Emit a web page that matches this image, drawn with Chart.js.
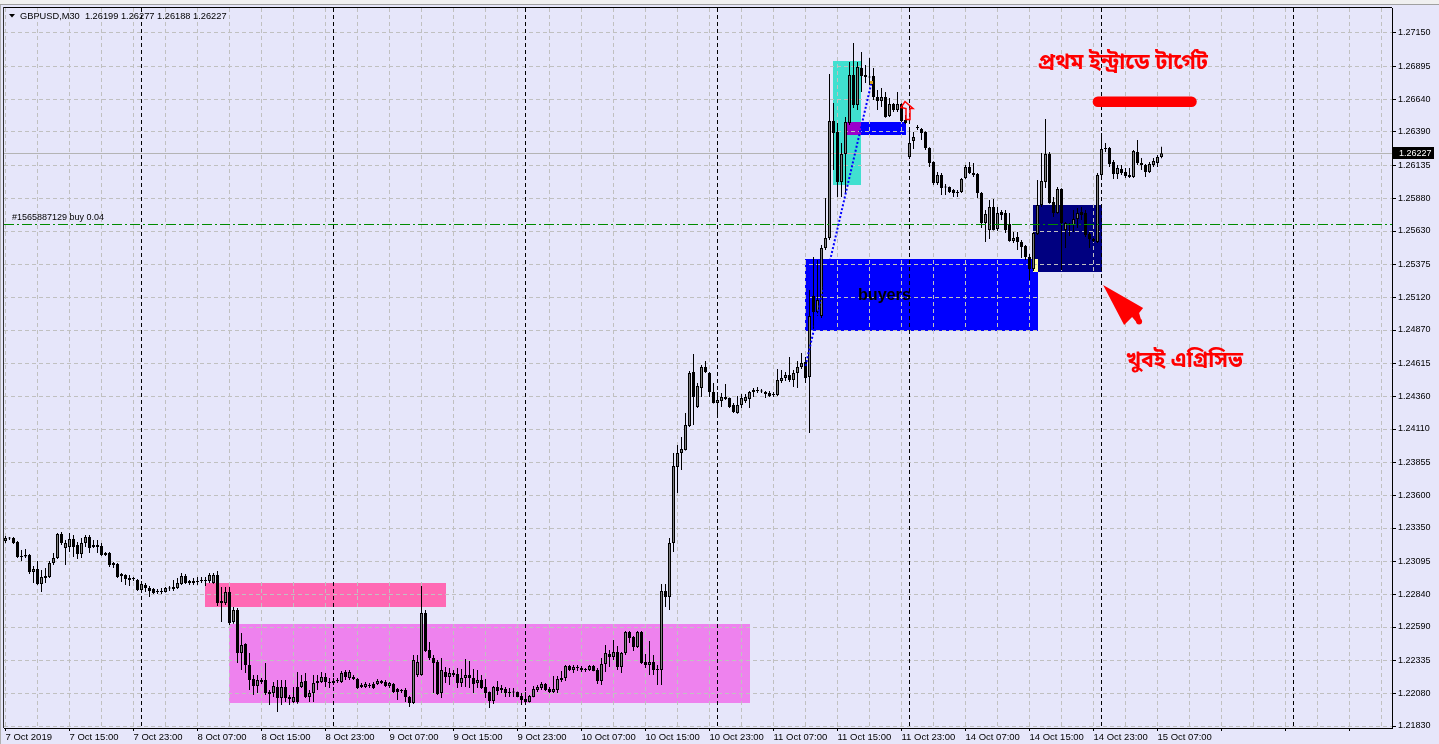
<!DOCTYPE html>
<html>
<head>
<meta charset="utf-8">
<script src="https://cdn.jsdelivr.net/npm/chart.js@4.4.1/dist/chart.umd.min.js"></script>
<style>
html,body{margin:0;padding:0;background:#E6E6FA;overflow:hidden}
#wrap{position:relative;width:1439px;height:744px}
canvas{display:block}
</style>
</head>
<body>
<div id="wrap"><canvas id="c" width="1439" height="744"></canvas></div>
<script>
// ---------------- DATA ----------------
const symbolTitle = "GBPUSD,M30  1.26199 1.26277 1.26188 1.26227";

const open = [
1.23250,1.23273,1.23273,1.23243,1.23135,1.23143,1.23143,1.23012,1.23035,1.22920,
1.22982,1.22974,1.23081,1.23120,1.23304,1.23197,1.23204,1.23266,1.23220,1.23150,
1.23235,1.23281,1.23220,1.23204,1.23212,1.23158,1.23158,1.23081,1.23074,1.22997,
1.22989,1.22951,1.22959,1.22951,1.22874,1.22913,1.22889,1.22882,1.22866,1.22859,
1.22859,1.22889,1.22882,1.22889,1.22920,1.22982,1.22943,1.22928,1.22936,1.22943,
1.22943,1.22943,1.22928,1.22989,1.22790,1.22774,1.22859,1.22628,1.22721,1.22390,
1.22460,1.22298,1.22191,1.22137,1.22183,1.22183,1.22091,1.22083,1.22129,1.22045,
1.22129,1.22053,1.22014,1.22129,1.22129,1.22175,1.22053,1.22083,1.22160,1.22168,
1.22206,1.22168,1.22160,1.22175,1.22168,1.22245,1.22199,1.22206,1.22191,1.22129,
1.22129,1.22145,1.22152,1.22152,1.22175,1.22168,1.22137,1.22152,1.22114,1.22106,
1.22106,1.22053,1.22007,1.22222,1.22222,1.22698,1.22414,1.22352,1.22321,1.22083,
1.22245,1.22206,1.22222,1.22229,1.22160,1.22199,1.22222,1.22199,1.22160,1.22183,
1.22129,1.22091,1.22022,1.22129,1.22122,1.22114,1.22091,1.22091,1.22091,1.22060,
1.22037,1.22014,1.22053,1.22106,1.22122,1.22152,1.22114,1.22091,1.22106,1.22183,
1.22199,1.22291,1.22260,1.22283,1.22275,1.22268,1.22260,1.22291,1.22260,1.22175,
1.22306,1.22383,1.22360,1.22398,1.22283,1.22390,1.22552,1.22513,1.22437,1.22552,
1.22321,1.22298,1.22321,1.22268,1.22260,1.22866,1.22820,1.23235,1.23818,1.23926,
1.23949,1.24133,1.24548,1.24279,1.24425,1.24586,1.24540,1.24394,1.24310,1.24325,
1.24356,1.24348,1.24294,1.24233,1.24294,1.24325,1.24340,1.24394,1.24410,1.24402,
1.24394,1.24386,1.24379,1.24371,1.24479,1.24502,1.24525,1.24486,1.24540,1.24586,
1.24624,1.24509,1.25131,1.25008,1.24978,1.25500,1.25576,1.26475,1.26390,1.26006,
1.26221,1.26459,1.26828,1.26597,1.26882,1.26828,1.26812,1.26820,1.26659,1.26628,
1.26659,1.26513,1.26605,1.26559,1.26605,1.26482,1.26198,1.26321,1.26421,1.26413,
1.26390,1.26267,1.26160,1.25999,1.26060,1.25968,1.25968,1.25945,1.25922,1.25930,
1.26037,1.26121,1.26075,1.26068,1.25922,1.25692,1.25638,1.25814,1.25646,1.25776,
1.25768,1.25684,1.25553,1.25584,1.25546,1.25515,1.25431,1.25338,1.25607,1.25830,
1.26006,1.26221,1.25853,1.25768,1.25953,1.25638,1.25684,1.25676,1.25722,1.25776,
1.25768,1.25607,1.25569,1.25546,1.26060,1.26260,1.26267,1.26160,1.26068,1.26106,
1.26083,1.26060,1.26045,1.26237,1.26152,1.26137,1.26083,1.26137,1.26152,1.26199
];
const high = [
1.23289,1.23281,1.23281,1.23250,1.23181,1.23189,1.23150,1.23058,1.23097,1.23028,
1.23043,1.23097,1.23158,1.23312,1.23319,1.23258,1.23312,1.23296,1.23243,1.23273,
1.23296,1.23296,1.23258,1.23258,1.23235,1.23166,1.23166,1.23089,1.23081,1.23005,
1.22995,1.22989,1.22974,1.22959,1.22943,1.22928,1.22905,1.22889,1.22882,1.22889,
1.22897,1.22905,1.22951,1.22966,1.23005,1.22997,1.22951,1.22966,1.22974,1.22974,
1.22974,1.23005,1.23005,1.23020,1.22897,1.22897,1.22897,1.22744,1.22736,1.22544,
1.22465,1.22390,1.22222,1.22222,1.22199,1.22314,1.22106,1.22168,1.22183,1.22183,
1.22183,1.22068,1.22129,1.22245,1.22222,1.22237,1.22106,1.22222,1.22222,1.22245,
1.22237,1.22199,1.22199,1.22199,1.22252,1.22260,1.22260,1.22222,1.22199,1.22160,
1.22168,1.22160,1.22168,1.22191,1.22183,1.22183,1.22168,1.22160,1.22122,1.22114,
1.22122,1.22060,1.22375,1.22375,1.22905,1.22721,1.22475,1.22375,1.22337,1.22352,
1.22283,1.22275,1.22260,1.22275,1.22268,1.22344,1.22329,1.22268,1.22260,1.22222,
1.22191,1.22095,1.22137,1.22175,1.22145,1.22129,1.22122,1.22122,1.22095,1.22083,
1.22091,1.22068,1.22137,1.22145,1.22168,1.22160,1.22129,1.22214,1.22214,1.22252,
1.22298,1.22298,1.22298,1.22298,1.22291,1.22275,1.22298,1.22298,1.22275,1.22352,
1.22452,1.22414,1.22490,1.22444,1.22398,1.22559,1.22559,1.22521,1.22559,1.22559,
1.22383,1.22483,1.22375,1.22298,1.22920,1.22920,1.23273,1.23926,1.23987,1.24049,
1.24233,1.24555,1.24686,1.24463,1.24601,1.24632,1.24548,1.24463,1.24394,1.24386,
1.24456,1.24352,1.24310,1.24363,1.24379,1.24379,1.24402,1.24425,1.24433,1.24417,
1.24402,1.24402,1.24394,1.24571,1.24563,1.24548,1.24663,1.24563,1.24632,1.24694,
1.24663,1.25177,1.25431,1.25408,1.25523,1.25884,1.26835,1.26613,1.26459,1.26306,
1.26505,1.26928,1.27073,1.26928,1.27004,1.26905,1.26958,1.26882,1.26713,1.26728,
1.26697,1.26651,1.26613,1.26697,1.26610,1.26521,1.26421,1.26390,1.26444,1.26421,
1.26395,1.26272,1.26165,1.26083,1.26075,1.25991,1.25972,1.25953,1.25945,1.26037,
1.26137,1.26160,1.26152,1.26075,1.25930,1.25791,1.25868,1.25876,1.25814,1.25791,
1.25791,1.25768,1.25622,1.25622,1.25561,1.25523,1.25454,1.25622,1.26022,1.26229,
1.26490,1.26237,1.25891,1.25968,1.25958,1.25699,1.25692,1.25791,1.25807,1.25814,
1.25791,1.25622,1.25576,1.26075,1.26383,1.26306,1.26275,1.26175,1.26137,1.26137,
1.26114,1.26114,1.26252,1.26329,1.26191,1.26145,1.26160,1.26191,1.26214,1.26277
];
const low = [
1.23235,1.23258,1.23227,1.23120,1.23097,1.23120,1.22997,1.22928,1.22913,1.22859,
1.22928,1.22966,1.23066,1.23112,1.23220,1.23066,1.23166,1.23127,1.23112,1.23120,
1.23204,1.23158,1.23197,1.23158,1.23135,1.23135,1.23051,1.23043,1.22966,1.22936,
1.22913,1.22905,1.22943,1.22866,1.22859,1.22859,1.22820,1.22843,1.22843,1.22843,
1.22855,1.22866,1.22866,1.22882,1.22913,1.22920,1.22913,1.22913,1.22913,1.22928,
1.22905,1.22928,1.22922,1.22751,1.22628,1.22759,1.22605,1.22615,1.22314,1.22260,
1.22237,1.22106,1.22068,1.22083,1.22152,1.22068,1.21991,1.22053,1.21938,1.21991,
1.22014,1.21991,1.22007,1.22000,1.22122,1.22045,1.22014,1.22014,1.22106,1.22160,
1.22129,1.22122,1.22145,1.22160,1.22160,1.22183,1.22183,1.22183,1.22114,1.22122,
1.22122,1.22122,1.22114,1.22145,1.22152,1.22129,1.22122,1.22083,1.22030,1.22083,
1.22014,1.21976,1.21999,1.22206,1.22215,1.22398,1.22337,1.22083,1.22068,1.22045,
1.22160,1.22145,1.22206,1.22122,1.22129,1.22129,1.22122,1.22083,1.22122,1.22114,
1.22045,1.21968,1.21999,1.22068,1.22083,1.22053,1.22053,1.22053,1.22050,1.21991,
1.21991,1.22010,1.22050,1.22091,1.22106,1.22099,1.22083,1.22083,1.22083,1.22168,
1.22175,1.22252,1.22237,1.22252,1.22245,1.22245,1.22252,1.22250,1.22152,1.22145,
1.22245,1.22283,1.22337,1.22260,1.22237,1.22375,1.22467,1.22406,1.22429,1.22306,
1.22275,1.22222,1.22222,1.22145,1.22145,1.22744,1.22721,1.23166,1.23619,1.23795,
1.23945,1.24125,1.24141,1.24271,1.24356,1.24540,1.24356,1.24305,1.24218,1.24279,
1.24333,1.24271,1.24233,1.24228,1.24271,1.24310,1.24271,1.24356,1.24386,1.24386,
1.24348,1.24356,1.24356,1.24363,1.24463,1.24479,1.24471,1.24433,1.24425,1.24571,
1.24463,1.24079,1.24870,1.24978,1.24962,1.25484,1.25561,1.26098,1.25891,1.25891,
1.25922,1.26444,1.26574,1.26559,1.26697,1.26766,1.26751,1.26636,1.26559,1.26582,
1.26500,1.26505,1.26544,1.26544,1.26467,1.26452,1.26191,1.26260,1.26406,1.26329,
1.26252,1.26121,1.25983,1.25983,1.25907,1.25907,1.25922,1.25891,1.25891,1.25922,
1.26029,1.26068,1.26045,1.25884,1.25653,1.25546,1.25569,1.25633,1.25630,1.25715,
1.25615,1.25548,1.25538,1.25484,1.25423,1.25408,1.25254,1.25323,1.25599,1.25814,
1.25960,1.25840,1.25738,1.25763,1.25331,1.25500,1.25592,1.25622,1.25653,1.25715,
1.25584,1.25500,1.25546,1.25538,1.26045,1.26237,1.26121,1.26029,1.26029,1.26060,
1.26037,1.26037,1.26037,1.26137,1.26098,1.26045,1.26075,1.26121,1.26121,1.26188
];
const close = [
1.23273,1.23270,1.23235,1.23127,1.23127,1.23131,1.23012,1.23035,1.22920,1.22974,
1.22966,1.23081,1.23120,1.23304,1.23235,1.23235,1.23266,1.23204,1.23150,1.23235,
1.23281,1.23197,1.23204,1.23220,1.23143,1.23143,1.23066,1.23066,1.22974,1.22982,
1.22959,1.22966,1.22966,1.22874,1.22920,1.22889,1.22866,1.22851,1.22859,1.22866,
1.22889,1.22886,1.22897,1.22928,1.22982,1.22928,1.22928,1.22943,1.22943,1.22951,
1.22951,1.22989,1.22989,1.22774,1.22774,1.22859,1.22621,1.22721,1.22390,1.22452,
1.22298,1.22183,1.22137,1.22183,1.22168,1.22083,1.22076,1.22137,1.22045,1.22129,
1.22045,1.22037,1.22053,1.22014,1.22168,1.22053,1.22083,1.22160,1.22175,1.22206,
1.22168,1.22160,1.22175,1.22183,1.22237,1.22206,1.22245,1.22191,1.22122,1.22145,
1.22152,1.22137,1.22122,1.22175,1.22160,1.22137,1.22160,1.22091,1.22091,1.22099,
1.22053,1.22007,1.22337,1.22321,1.22698,1.22406,1.22352,1.22314,1.22076,1.22260,
1.22206,1.22237,1.22237,1.22160,1.22199,1.22222,1.22199,1.22152,1.22183,1.22122,
1.22083,1.22022,1.22129,1.22099,1.22106,1.22083,1.22083,1.22087,1.22053,1.22030,
1.22014,1.22060,1.22114,1.22129,1.22152,1.22106,1.22091,1.22114,1.22191,1.22199,
1.22291,1.22260,1.22283,1.22275,1.22260,1.22260,1.22291,1.22252,1.22175,1.22306,
1.22390,1.22360,1.22398,1.22283,1.22390,1.22552,1.22506,1.22437,1.22552,1.22314,
1.22298,1.22321,1.22260,1.22260,1.22866,1.22820,1.23235,1.23826,1.23926,1.23957,
1.24141,1.24540,1.24356,1.24440,1.24586,1.24548,1.24394,1.24310,1.24333,1.24356,
1.24340,1.24279,1.24241,1.24294,1.24348,1.24356,1.24394,1.24410,1.24402,1.24398,
1.24379,1.24363,1.24371,1.24486,1.24502,1.24525,1.24486,1.24540,1.24586,1.24617,
1.24502,1.24978,1.25008,1.25100,1.25500,1.25576,1.26475,1.26383,1.26006,1.26221,
1.26467,1.26828,1.26597,1.26889,1.26820,1.26812,1.26808,1.26659,1.26628,1.26659,
1.26505,1.26605,1.26559,1.26605,1.26475,1.26459,1.26306,1.26352,1.26429,1.26383,
1.26267,1.26152,1.25999,1.26060,1.25960,1.25964,1.25930,1.25922,1.25930,1.26029,
1.26121,1.26075,1.26060,1.25922,1.25692,1.25761,1.25814,1.25638,1.25768,1.25753,
1.25638,1.25553,1.25576,1.25546,1.25507,1.25431,1.25338,1.25615,1.25830,1.26014,
1.26221,1.25845,1.25768,1.25953,1.25692,1.25692,1.25676,1.25722,1.25768,1.25753,
1.25599,1.25569,1.25553,1.26060,1.26260,1.26267,1.26145,1.26068,1.26114,1.26075,
1.26052,1.26045,1.26244,1.26152,1.26137,1.26083,1.26145,1.26168,1.26198,1.26227
];

const timeLabels = ["7 Oct 2019","7 Oct 15:00","7 Oct 23:00","8 Oct 07:00","8 Oct 15:00","8 Oct 23:00",
  "9 Oct 07:00","9 Oct 15:00","9 Oct 23:00","10 Oct 07:00","10 Oct 15:00","10 Oct 23:00",
  "11 Oct 07:00","11 Oct 15:00","11 Oct 23:00","14 Oct 07:00","14 Oct 15:00","14 Oct 23:00","15 Oct 07:00"];
const labelEveryBars = 16;
const gridEveryBars = 8;
const priceTicks = [1.27150,1.26895,1.26640,1.26390,1.26135,1.25880,1.25630,1.25375,1.25120,1.24870,1.24615,
  1.24360,1.24110,1.23855,1.23600,1.23350,1.23095,1.22840,1.22590,1.22335,1.22080,1.21830];
const daySeparators = [34, 82, 130, 178, 226, 274, 322];
const currentPrice = 1.26227;
const orderPrice = 1.25680;
const orderLabel = "#1565887129 buy 0.04";

// rectangles (bar index from/to, price top/bottom)
const zoneFrom   = [50,      56,      200,     257,     207,     210.5,   210.5,   257];
const zoneTo     = [110,     186,     258,     274,     213.75,  225,     213.75,  258];
const zoneTop    = [1.22928, 1.22613, 1.25415, 1.25830, 1.26935, 1.26467, 1.26467, 1.25415];
const zoneBottom = [1.22744, 1.22007, 1.24862, 1.25315, 1.25983, 1.26367, 1.26367, 1.25315];

// trade history line (bar, price)
const tradeBars = [200, 216.5];
const tradePrices = [1.24594, 1.26770];
// target line
const targetBars = [273.1, 296.5];
const targetPrice = 1.26622;
// arrows (bar, price of tip)
const cursorArrowAt = [274.4, 1.25216];
const upArrowAt = [225, 1.26624];
// text notes
const noteText  = ["প্রথম ইন্ট্রাডে টার্গেট", "খুবই এগ্রিসিভ", "buyers"];
const noteBar   = [258.1, 280.1, 213.1];
const notePrice = [1.26905, 1.24617, 1.25131];

// ---------------- STYLE ----------------
const ZONE_COLORS = ['#FF69B4', '#EE82EE', '#0000FF', '#000080', '#40E0D0', '#0000FF', '#9A00CC', '#FFFFA0'];
const NOTE_STYLE = [
  {color:'#FF0000', width:170, weight:'bold', family:'"Noto Sans Bengali","Noto Serif Bengali","Lohit Bengali","Noto Sans",sans-serif'},
  {color:'#FF0000', width:117, weight:'bold', family:'"Noto Sans Bengali","Noto Serif Bengali","Lohit Bengali","Noto Sans",sans-serif'},
  {color:'#000000', width:53, weight:'bold', family:'"Liberation Sans",Arial,sans-serif'}
];
const AXIS_FONT = '"Liberation Sans",Arial,sans-serif';

// ---------------- BUILD ----------------
const bodies = open.map((o, i) => ({x: i, y: [o, close[i]]}));
const wicks = open.map((o, i) => ({x: i, y: [low[i], high[i]]}));

function fitText(ctx, text, weight, family, targetW, base) {
  ctx.font = weight + ' ' + base + 'px ' + family;
  const w = ctx.measureText(text).width || 1;
  const s = base * targetW / w;
  ctx.font = weight + ' ' + s.toFixed(2) + 'px ' + family;
}
const crisp = v => Math.round(v - 0.5) + 0.5;

const overlay = {
  id: 'overlay',
  beforeDraw(chart) {
    const {ctx, chartArea: a, scales: {x, y}} = chart;
    ctx.save();
    ctx.fillStyle = '#F0F0F0'; ctx.fillRect(0, 0, chart.width, 4);
    ctx.fillStyle = '#A0A0A0'; ctx.fillRect(0, 4, chart.width, 1);
    ctx.fillStyle = '#B0B0B0'; ctx.fillRect(0, 5, 1, chart.height - 5);
    ctx.beginPath(); ctx.rect(a.left, a.top, a.right - a.left, a.bottom - a.top); ctx.clip();
    for (let k = 0; k < zoneFrom.length; k++) {
      const x1 = Math.round(x.getPixelForValue(zoneFrom[k]) - 0.5);
      const x2 = Math.round(x.getPixelForValue(zoneTo[k]) + 0.5);
      const y1 = Math.round(y.getPixelForValue(zoneTop[k]));
      const y2 = Math.round(y.getPixelForValue(zoneBottom[k]));
      ctx.fillStyle = ZONE_COLORS[k];
      ctx.fillRect(x1, y1, x2 - x1, y2 - y1);
    }
    ctx.restore();
  },
  beforeDatasetsDraw(chart) {
    const {ctx, chartArea: a, scales: {x, y}} = chart;
    ctx.save();
    ctx.beginPath(); ctx.rect(a.left, a.top, a.right - a.left, a.bottom - a.top); ctx.clip();
    ctx.strokeStyle = '#000'; ctx.lineWidth = 1; ctx.setLineDash([4, 3]);
    daySeparators.forEach(b => {
      const px = crisp(x.getPixelForValue(b));
      ctx.beginPath(); ctx.moveTo(px, a.top); ctx.lineTo(px, a.bottom); ctx.stroke();
    });
    ctx.setLineDash([]);
    ctx.strokeStyle = '#B4B4B4';
    const py = crisp(y.getPixelForValue(currentPrice));
    ctx.beginPath(); ctx.moveTo(a.left, py); ctx.lineTo(a.right, py); ctx.stroke();
    ctx.restore();
  },
  afterDatasetsDraw(chart) {
    const {ctx, chartArea: a, scales: {x, y}} = chart;
    ctx.save();
    ctx.beginPath(); ctx.rect(a.left, a.top, a.right - a.left, a.bottom - a.top); ctx.clip();
    // order level
    const oy = crisp(y.getPixelForValue(orderPrice));
    ctx.strokeStyle = '#008A00'; ctx.lineWidth = 1; ctx.setLineDash([10, 3, 2, 3]);
    ctx.beginPath(); ctx.moveTo(a.left, oy); ctx.lineTo(a.right, oy); ctx.stroke();
    ctx.setLineDash([]);
    ctx.fillStyle = '#000'; ctx.font = '9px ' + AXIS_FONT; ctx.textBaseline = 'middle'; ctx.textAlign = 'left';
    ctx.fillText(orderLabel, a.left + 8, oy - 6.5);
    // trade line
    ctx.strokeStyle = '#0000FF'; ctx.lineWidth = 2; ctx.setLineDash([2, 2]);
    ctx.beginPath();
    ctx.moveTo(x.getPixelForValue(tradeBars[0]), y.getPixelForValue(tradePrices[0]));
    ctx.lineTo(x.getPixelForValue(tradeBars[1]), y.getPixelForValue(tradePrices[1]));
    ctx.stroke();
    ctx.setLineDash([]);
    ctx.fillStyle = '#DAA520';
    ctx.fillRect(x.getPixelForValue(tradeBars[1]) - 1.5, y.getPixelForValue(tradePrices[1]) - 1.5, 3, 3);
    // target line
    ctx.strokeStyle = '#FF0000'; ctx.lineWidth = 10.5; ctx.lineCap = 'round';
    const ty = y.getPixelForValue(targetPrice);
    ctx.beginPath(); ctx.moveTo(x.getPixelForValue(targetBars[0]), ty); ctx.lineTo(x.getPixelForValue(targetBars[1]), ty); ctx.stroke();
    ctx.lineCap = 'butt';
    // cursor arrow
    const cx = x.getPixelForValue(cursorArrowAt[0]), cy = y.getPixelForValue(cursorArrowAt[1]);
    ctx.fillStyle = '#FF0000';
    ctx.beginPath();
    [[0,0],[21,40],[29,32],[34,38],[38,35],[36,28],[40,23]].forEach((p, k) => k ? ctx.lineTo(cx + p[0], cy + p[1]) : ctx.moveTo(cx + p[0], cy + p[1]));
    ctx.closePath(); ctx.fill();
    ctx.beginPath(); ctx.arc(cx + 36, cy + 36.5, 3, 0, Math.PI * 2); ctx.fill();
    // up arrow outline
    const ux = x.getPixelForValue(upArrowAt[0]) - 0.5, uy = y.getPixelForValue(upArrowAt[1]);
    ctx.strokeStyle = '#FF0000'; ctx.lineWidth = 1.5; ctx.lineJoin = 'miter';
    ctx.beginPath();
    [[0,0],[8,7],[5,7],[5,18],[1,18],[1,7],[-4,6]].forEach((p, k) => k ? ctx.lineTo(ux + p[0], uy + p[1]) : ctx.moveTo(ux + p[0], uy + p[1]));
    ctx.closePath(); ctx.stroke();
    // notes
    ctx.textBaseline = 'middle'; ctx.textAlign = 'left';
    noteText.forEach((t, k) => {
      const st = NOTE_STYLE[k];
      fitText(ctx, t, st.weight, st.family, st.width, 18);
      ctx.fillStyle = st.color;
      ctx.fillText(t, x.getPixelForValue(noteBar[k]), y.getPixelForValue(notePrice[k]));
    });
    ctx.restore();
  },
  afterDraw(chart) {
    const {ctx, chartArea: a, scales: {y}} = chart;
    ctx.save();
    ctx.fillStyle = '#000';
    ctx.fillRect(a.left - 1, a.top - 1, a.right - a.left + 1, 1);
    ctx.fillStyle = '#303030';
    ctx.fillRect(a.left - 1, a.top - 1, 1, a.bottom - a.top + 1);
    // title
    ctx.fillStyle = '#000';
    ctx.beginPath(); ctx.moveTo(9, 14); ctx.lineTo(15, 14); ctx.lineTo(12, 17.5); ctx.closePath(); ctx.fill();
    ctx.textBaseline = 'middle'; ctx.textAlign = 'left';
    fitText(ctx, symbolTitle, 'normal', AXIS_FONT, 207, 10);
    ctx.fillText(symbolTitle, 20, 16.5);
    // current price label
    const py = crisp(y.getPixelForValue(currentPrice));
    ctx.fillStyle = '#000';
    ctx.fillRect(a.right + 1, py - 6.5, 41, 12);
    ctx.fillStyle = '#FFF';
    ctx.font = '9px ' + AXIS_FONT;
    ctx.fillText(currentPrice.toFixed(5), a.right + 7, py + 0.5);
    ctx.restore();
  }
};

new Chart(document.getElementById('c'), {
  type: 'bar',
  data: {
    datasets: [
      { label: 'body', data: bodies, order: 0, grouped: false,
        barThickness: 3, maxBarThickness: 3, barPercentage: 1, categoryPercentage: 1,
        backgroundColor: c => (close[c.dataIndex] > open[c.dataIndex] ? '#808080' : '#000000'),
        borderColor: '#000000', borderWidth: 1, borderSkipped: false, inflateAmount: 0, minBarLength: 1 },
      { label: 'wick', data: wicks, order: 1, grouped: false,
        barThickness: 1, maxBarThickness: 1, barPercentage: 1, categoryPercentage: 1,
        backgroundColor: '#000000', borderWidth: 0, inflateAmount: 0, minBarLength: 1 }
    ]
  },
  options: {
    responsive: false, animation: false, events: [], devicePixelRatio: 1,
    layout: { padding: { left: 4, top: 8, right: 0, bottom: 0 }, autoPadding: false },
    plugins: { legend: { display: false }, tooltip: { enabled: false }, title: { display: false } },
    scales: {
      x: {
        type: 'linear', position: 'bottom', min: -0.375, max: 346.625, offset: false,
        afterBuildTicks: s => { const t = []; for (let v = 0; v <= s.max; v += gridEveryBars) t.push({value: v}); s.ticks = t; },
        afterFit: s => { s.height = 16; },
        ticks: {
          autoSkip: false, maxRotation: 0, minRotation: 0, align: 'start', labelOffset: 0, padding: 1,
          color: '#000', font: { family: AXIS_FONT, size: 9.5 },
          callback: v => (v % labelEveryBars === 0 && timeLabels[v / labelEveryBars]) ? timeLabels[v / labelEveryBars] : ''
        },
        grid: { offset: false, color: '#C0C0C0', lineWidth: 1, drawTicks: true, tickLength: 3, tickWidth: 1, tickBorderDash: [],
          tickColor: c => (c.tick && c.tick.value % labelEveryBars === 0) ? '#000' : 'rgba(0,0,0,0)' },
        border: { display: true, color: '#000', width: 1, dash: [4, 3] }
      },
      y: {
        type: 'linear', position: 'right', min: 1.218147, max: 1.273419,
        afterBuildTicks: s => { s.ticks = priceTicks.map(v => ({value: v})); },
        afterFit: s => { s.width = 47; },
        ticks: { autoSkip: false, padding: 2, color: '#000', font: { family: AXIS_FONT, size: 9 }, callback: v => Number(v).toFixed(5) },
        grid: { color: '#C0C0C0', lineWidth: 1, drawTicks: true, tickLength: 4, tickWidth: 1, tickColor: '#000', tickBorderDash: [] },
        border: { display: true, color: '#000', width: 1, dash: [4, 3] }
      }
    }
  },
  plugins: [overlay]
});
</script>
</body>
</html>
